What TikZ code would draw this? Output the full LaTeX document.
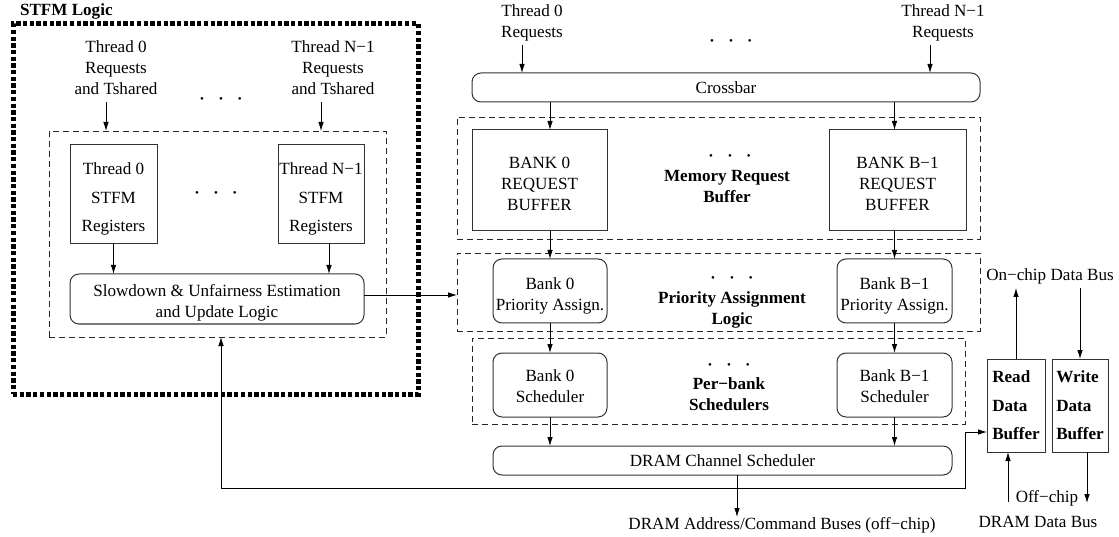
\documentclass[tikz,border=0pt]{standalone}
\usepackage{fontspec}
\setmainfont{Liberation Serif}
\usetikzlibrary{arrows.meta}
\newcommand{\lowerby}[1]{\rule{0pt}{#1}}
\begin{document}
\begin{tikzpicture}[x=1pt,y=-1pt,
  every node/.style={inner sep=0pt, outer sep=0pt, align=center, font=\fontsize{17.1}{21}\selectfont},
  grp/.style={font=\fontsize{17.1}{21}\selectfont\bfseries},
  wide/.style={font=\fontsize{17.1}{28.5}\selectfont},
  wideb/.style={font=\fontsize{17.1}{28.5}\selectfont\bfseries, align=left},
  dotsn/.style={font=\fontsize{11}{11}\selectfont},
  box/.style={draw=black!80, line width=1pt},
  rbox/.style={box, rounded corners=9pt},
  grpbox/.style={draw=black!85, line width=0.9pt, dash pattern=on 6pt off 4pt},
  outerbox/.style={draw=black, line width=5pt, dash pattern=on 4.3pt off 2.4pt},
  arr/.style={-{Latex[length=9pt,width=5.5pt]}, line width=0.8pt},
  arrtwo/.style={{Latex[length=9pt,width=5.5pt]}-{Latex[length=9pt,width=5.5pt]}, line width=0.8pt}
]
\useasboundingbox (0,0) rectangle (1119,537);

% ---------- STFM logic ----------
\node[outerbox, minimum width=405pt, minimum height=370pt] (stfm) at (215.5,209) {};
\node[grp, anchor=base west] (stfmlab) at (20,16) {STFM Logic};
\node[grpbox, minimum width=337pt, minimum height=206pt] (stfmin) at (217.5,234) {};
\node[anchor=north] (t0lab) at (116,41) {Thread 0\\Requests\\and Tshared};
\node[anchor=north] (tNlab) at (333,41) {Thread N−1\\Requests\\and Tshared};
\node[dotsn] (dA) at (221,100) {•\hspace{15pt}•\hspace{15pt}•};
\node[box, wide, minimum width=87pt, minimum height=99pt] (reg0) at (113.5,194.5) {\lowerby{21.5pt}Thread 0\\STFM\\Registers};
\node[box, wide, minimum width=86pt, minimum height=99pt] (regN) at (321,194.5) {\lowerby{21.5pt}Thread N−1\\STFM\\Registers};
\node[dotsn] (dB) at (216,194) {•\hspace{15pt}•\hspace{15pt}•};
\node[rbox, minimum width=294pt, minimum height=50pt] (slow) at (217,299) {\lowerby{19.5pt}Slowdown \& Unfairness Estimation\\and Update Logic};

\coordinate (t0a) at (106,102);
\coordinate (tNa) at (321,102);
\draw[arr] (t0a) -- (t0a |- stfmin.north);
\draw[arr] (tNa) -- (tNa |- stfmin.north);
\draw[arr] (reg0.south) -- (reg0.south |- slow.north);
\coordinate (rNa) at (329,244);
\draw[arr] (rNa) -- (rNa |- slow.north);

% ---------- memory controller ----------
\node[anchor=north] (rt0) at (532,5) {Thread 0\\Requests};
\node[anchor=north] (rtN) at (943,5) {Thread N−1\\Requests};
\node[dotsn] (dC) at (731,42) {•\hspace{15pt}•\hspace{15pt}•};
\node[rbox, minimum width=508pt, minimum height=29pt] (xbar) at (726,87.5) {Crossbar};
\coordinate (x0a) at (522,45);
\coordinate (xNa) at (930,45);
\draw[arr] (x0a) -- (x0a |- xbar.north);
\draw[arr] (xNa) -- (xNa |- xbar.north);

\node[grpbox, minimum width=523pt, minimum height=122pt] (mrb) at (718.5,178) {};
\node[box, minimum width=135pt, minimum height=101pt] (bank0) at (539.5,180.5) {\lowerby{17.5pt}BANK 0\\REQUEST\\BUFFER};
\node[box, minimum width=137pt, minimum height=101pt] (bankB) at (897.5,180.5) {\lowerby{17.5pt}BANK B−1\\REQUEST\\BUFFER};
\node[dotsn] (dD) at (730,157) {•\hspace{15pt}•\hspace{15pt}•};
\node[grp, anchor=north] (mrblab) at (727,170) {Memory Request\\Buffer};

\node[grpbox, minimum width=523pt, minimum height=78pt] (pal) at (718.5,292) {};
\node[rbox, minimum width=114pt, minimum height=64pt] (pa0) at (550,291) {\lowerby{21.5pt}Bank 0\\Priority Assign.};
\node[rbox, minimum width=115pt, minimum height=64pt] (paB) at (894.5,291) {\lowerby{21.5pt}Bank B−1\\Priority Assign.};
\node[dotsn] (dE) at (732,279) {•\hspace{15pt}•\hspace{15pt}•};
\node[grp, anchor=north] (pallab) at (732,292) {Priority Assignment\\Logic};

\node[grpbox, minimum width=493pt, minimum height=86pt] (pbs) at (718.5,381) {};
\node[rbox, minimum width=114pt, minimum height=64pt] (sch0) at (550,385) {\lowerby{14.5pt}Bank 0\\Scheduler};
\node[rbox, minimum width=115pt, minimum height=64pt] (schB) at (894.5,385) {\lowerby{14.5pt}Bank B−1\\Scheduler};
\node[dotsn] (dF) at (729,366) {•\hspace{15pt}•\hspace{15pt}•};
\node[grp, anchor=north] (pbslab) at (729,378) {Per−bank\\Schedulers};

\node[rbox, minimum width=459pt, minimum height=29pt] (dcs) at (722.5,460.5) {DRAM Channel Scheduler};

\draw[arr] (xbar.south -| pa0.center) -- (bank0.north -| pa0.center);
\draw[arr] (bank0.south -| pa0.center) -- (pa0.north);
\draw[arr] (pa0.south) -- (sch0.north);
\draw[arr] (sch0.south) -- (sch0.south |- dcs.north);
\draw[arr] (xbar.south -| paB.center) -- (bankB.north -| paB.center);
\draw[arr] (bankB.south -| paB.center) -- (paB.north);
\draw[arr] (paB.south) -- (schB.north);
\draw[arr] (schB.south) -- (schB.south |- dcs.north);

\draw[arr] ([yshift=4pt]slow.east) -- ([yshift=4pt]slow.east -| pal.west);

% ---------- data buffers ----------
\node[box, wideb, minimum width=58pt, minimum height=93pt] (rdb) at (1016,405.5) {Read\\Data\\Buffer};
\node[box, wideb, minimum width=56pt, minimum height=93pt] (wdb) at (1080,405.5) {Write\\Data\\Buffer};
\node (onlab) at (1050,276) {On−chip Data Bus};
\coordinate (onA) at (1016,288);
\coordinate (onB) at (1080,288);
\draw[arr] (rdb.north) -- (onA);
\draw[arr] (onB) -- (wdb.north);
\node (offlab) at (1047,498) {Off−chip};
\node (offlabb) at (1038,522) {DRAM Data Bus};
\coordinate (offA) at (1008,502);
\coordinate (offB) at (1087,503);
\draw[arr] (offA) -- (offA |- rdb.south);
\draw[arr] (offB |- wdb.south) -- (offB);

% ---------- DRAM address bus and feedback ----------
\node (addrlab) at (782,525) {DRAM Address/Command Buses (off−chip)};
\coordinate (addrA) at (737,517);
\draw[arr] (dcs.south -| addrA) -- (addrA);
\coordinate (fbL) at (221,488);
\coordinate (fbR) at (965,432);
\draw[arrtwo] (fbL |- stfmin.south) -- (fbL) -| (fbR) -- (fbR -| rdb.west);
\end{tikzpicture}
\end{document}
